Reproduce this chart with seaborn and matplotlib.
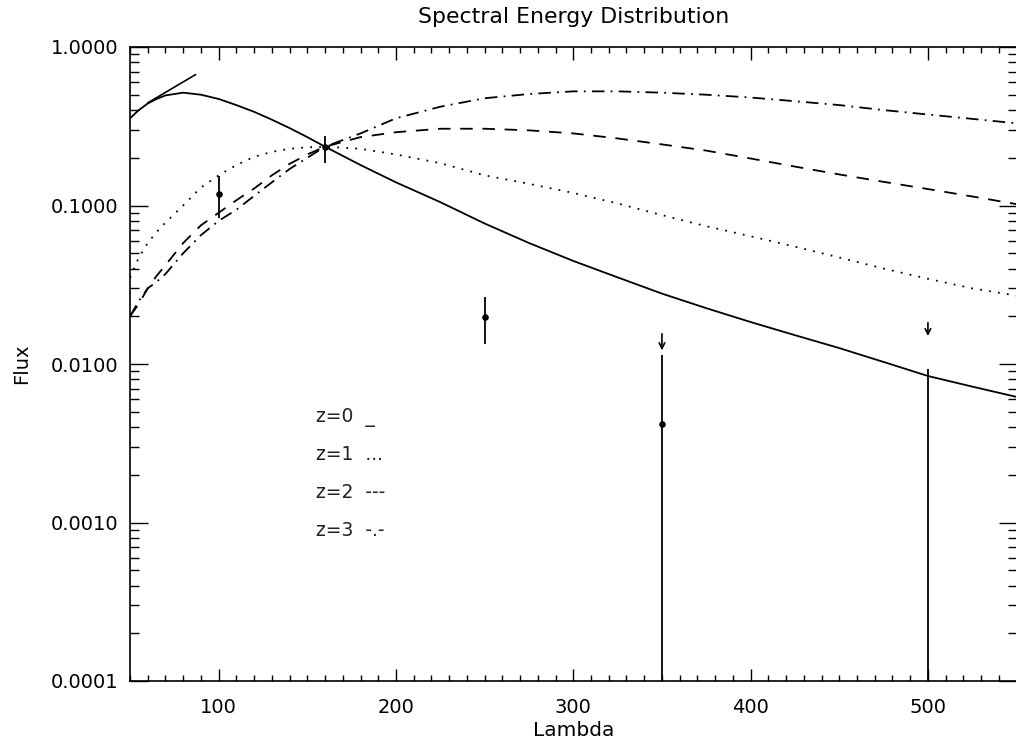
import numpy as np
import pandas as pd
import matplotlib
matplotlib.use("Agg")
import matplotlib.pyplot as plt
from matplotlib.ticker import MultipleLocator, LogLocator, FuncFormatter, NullFormatter
import seaborn as sns

# ---- data ----
lam = [50, 55, 60, 65, 70, 80, 90, 100, 110, 120, 130, 140, 150, 160, 180, 200,
       225, 250, 275, 300, 325, 350, 375, 400, 425, 450, 475, 500, 525, 550]
flux_z0 = [0.355, 0.40, 0.44, 0.47, 0.495, 0.515, 0.50, 0.47, 0.43, 0.39, 0.348, 0.308,
           0.27, 0.235, 0.18, 0.14, 0.105, 0.077, 0.058, 0.0447, 0.0352, 0.0278, 0.0225,
           0.0184, 0.0152, 0.0126, 0.0103, 0.0084, 0.0072, 0.0062]
flux_z1 = [0.035, 0.047, 0.058, 0.068, 0.078, 0.10, 0.13, 0.155, 0.18, 0.203, 0.218, 0.228,
           0.233, 0.235, 0.228, 0.21, 0.185, 0.155, 0.137, 0.120, 0.103, 0.087, 0.074,
           0.064, 0.055, 0.047, 0.040, 0.0345, 0.030, 0.027]
flux_z2 = [0.020, 0.024, 0.030, 0.036, 0.042, 0.058, 0.075, 0.090, 0.108, 0.128, 0.155, 0.183,
           0.21, 0.235, 0.27, 0.29, 0.305, 0.305, 0.298, 0.285, 0.265, 0.243, 0.222,
           0.198, 0.176, 0.157, 0.141, 0.127, 0.114, 0.102]
flux_z3 = [0.020, 0.025, 0.030, 0.033, 0.037, 0.050, 0.065, 0.080, 0.094, 0.115, 0.14, 0.17,
           0.20, 0.235, 0.285, 0.355, 0.42, 0.475, 0.505, 0.525, 0.525, 0.515, 0.50,
           0.48, 0.455, 0.43, 0.40, 0.375, 0.352, 0.330]
z_labels = ["z=0", "z=1", "z=2", "z=3"]
legend_marks = ["_", "...", "---", "-.-"]

# tangent segment near the peak
tan_x = [60, 87]
tan_y = [0.444, 0.67]

# observed points with error bars
obs_x = [100, 160, 250, 350, 500]
obs_y = [0.119, 0.235, 0.0199, 0.00418, np.nan]
obs_lo = [0.0836, 0.185, 0.0134, 1e-5, 1e-5]
obs_hi = [0.154, 0.274, 0.0266, 0.0114, 0.00925]

# upper-limit arrows
lim_x = [350, 500]
lim_top = [0.0155, 0.0182]
lim_bot = [0.0122, 0.0150]

x_ticks = [100, 200, 300, 400, 500]
y_ticks = [1e-4, 1e-3, 1e-2, 1e-1, 1.0]

# ---- long-form table ----
df = pd.concat([
    pd.DataFrame({"lambda": lam, "flux": f, "z": z})
    for f, z in zip([flux_z0, flux_z1, flux_z2, flux_z3], z_labels)
], ignore_index=True)

sns.set_style("ticks")
plt.rcParams["font.family"] = ["DejaVu Sans"]
plt.rcParams["lines.scale_dashes"] = False
for k in ["text.color", "axes.labelcolor", "xtick.color", "ytick.color", "axes.edgecolor"]:
    plt.rcParams[k] = "black"

fig = plt.figure(figsize=(10.16, 7.45), dpi=100)
ax = fig.add_axes([130 / 1016, 1 - 681 / 745, 886.6 / 1016, 634 / 745])

dash_map = {"z=0": "", "z=1": (1.3, 5.2), "z=2": (9, 7), "z=3": (9, 4.5, 1.3, 4.5)}
sns.lineplot(data=df, x="lambda", y="flux", style="z", dashes=dash_map,
             color="black", lw=1.3, legend=False, ax=ax, estimator=None)

ax.plot(tan_x, tan_y, color="black", lw=1.2)

ax.vlines(obs_x, obs_lo, obs_hi, color="black", lw=1.3)
ax.scatter(obs_x, obs_y, s=14, color="black", zorder=5)

for x, t, b in zip(lim_x, lim_top, lim_bot):
    ax.annotate("", xy=(x, b), xytext=(x, t),
                arrowprops=dict(arrowstyle="->", lw=1.2, color="black",
                                mutation_scale=10, shrinkA=0, shrinkB=0))

ax.set_yscale("log")
ax.set_xlim(50, 550)
ax.set_ylim(1e-4, 1.0)

ax.xaxis.set_major_locator(MultipleLocator(100))
ax.xaxis.set_minor_locator(MultipleLocator(10))
ax.set_xticks(x_ticks)
ax.yaxis.set_minor_locator(LogLocator(base=10, subs=np.arange(2, 10), numticks=20))
ax.set_yticks(y_ticks)
ax.yaxis.set_major_formatter(FuncFormatter(lambda v, p: f"{v:.4f}"))
ax.yaxis.set_minor_formatter(NullFormatter())

ax.tick_params(axis="both", which="both", direction="in", top=True, right=True,
               colors="black", labelsize=14, width=1.0)
ax.tick_params(axis="x", which="major", length=9, pad=12)
ax.tick_params(axis="x", which="minor", length=4.3)
ax.tick_params(axis="y", which="major", length=12.7, pad=8.5)
ax.tick_params(axis="y", which="minor", length=6.2)

for s in ax.spines.values():
    s.set_linewidth(1.2)
    s.set_color("black")

ax.set_title("Spectral Energy Distribution", fontsize=15.8, pad=17)
ax.set_xlabel("Lambda", fontsize=14.5, labelpad=3)
ax.set_ylabel("Flux", fontsize=14, labelpad=14)

# text legend drawn inside the axes
for i, (lab, mk) in enumerate(zip(z_labels, legend_marks)):
    ax.text(0.210, 0.416 - i * 0.0595, f"{lab}  {mk}", transform=ax.transAxes,
            fontsize=13.5, va="center", ha="left", color="#222222")

fig.savefig("out.png", dpi=100, facecolor="white")
